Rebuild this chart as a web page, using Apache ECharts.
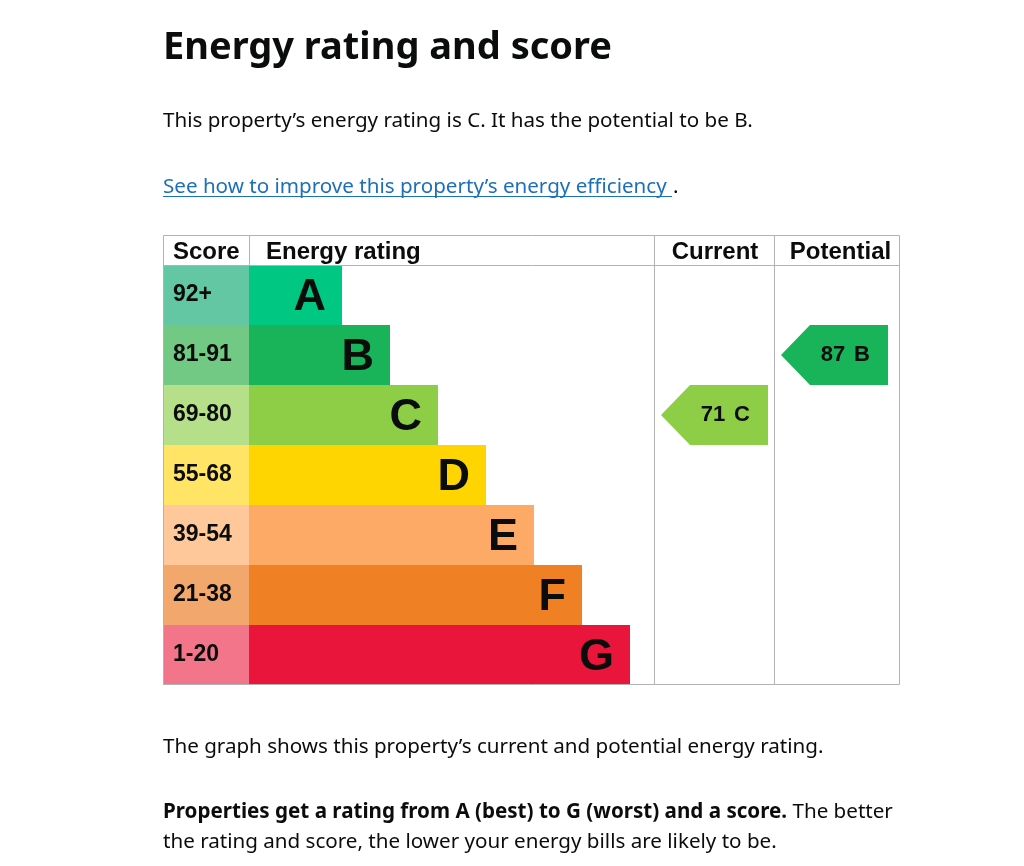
<!DOCTYPE html>
<html>
<head>
<meta charset="utf-8">
<script src="https://cdn.jsdelivr.net/npm/echarts@6/dist/echarts.min.js"></script>
<style>html,body{margin:0;padding:0;background:#fff}#c{width:1024px;height:866px}</style>
</head>
<body>
<div id="c"></div>
<script>
// ---- data ----
const ratings = ['A', 'B', 'C', 'D', 'E', 'F', 'G'];
const scoreRanges = ['92+', '81-91', '69-80', '55-68', '39-54', '21-38', '1-20'];
const ratingBarLengths = [93, 141, 189, 237, 285, 333, 381];
const ratingColors = ['#00c781', '#19b459', '#8dce46', '#ffd500', '#fcaa65', '#ef8023', '#e9153b'];
const scoreCellColors = ['#64c7a4', '#72c983', '#b6df89', '#ffe466', '#fec89b', '#f2a76d', '#f2758a'];
const currentScore = 71;
const currentRating = 'C';
const potentialScore = 87;
const potentialRating = 'B';
const headers = ['Score', 'Energy rating', 'Current', 'Potential'];

const BODY = '"Noto Sans", sans-serif';
const ARIAL = '"Liberation Sans", Arial, sans-serif';
const INK = '#0b0c0c';
const LINE = '#b1b4b6';
const FS = '20.6px ';

const chart = echarts.init(document.getElementById('c'));
const top0 = 265, h0 = 420;
const grids = [
  { left: 163, width: 86, top: top0, height: h0 },
  { left: 249, width: 405, top: top0, height: h0 },
  { left: 654, width: 120, top: top0, height: h0 },
  { left: 774, width: 126, top: top0, height: h0 }
];
const xAxes = [
  { gridIndex: 0, type: 'value', min: 0, max: 1, show: false },
  { gridIndex: 1, type: 'value', min: 0, max: 405, show: false },
  { gridIndex: 2, type: 'value', min: 0, max: 120, show: false },
  { gridIndex: 3, type: 'value', min: 0, max: 126, show: false }
];
const yAxes = grids.map((g, i) => ({ gridIndex: i, type: 'category', data: ratings, inverse: true, show: false }));

const arrowTextStyle = { fontSize: 22, fontWeight: 'bold', fontFamily: ARIAL, fill: INK };

function arrowItem(params, api) {
  const cat = api.value(0);
  const tip = api.coord([7, cat]);
  const bodyStart = api.coord([36, cat]);
  const end = api.coord([114, cat]);
  const h = api.size([0, 1])[1];
  const cy = tip[1];
  const y0 = cy - h / 2, y1 = cy + h / 2;
  const color = ratingColors[cat];
  return {
    type: 'group',
    children: [
      { type: 'polygon', shape: { points: [[tip[0], cy], [bodyStart[0], y0], [end[0], y0], [end[0], y1], [bodyStart[0], y1]] }, style: { fill: color } },
      { type: 'text', x: end[0] - 18, y: cy, style: Object.assign({
          text: '{s|' + api.value(1) + '}{g|' + ratings[cat] + '}', align: 'right', verticalAlign: 'middle',
          rich: { s: Object.assign({}, arrowTextStyle), g: Object.assign({ padding: [0, 0, 0, 9] }, arrowTextStyle) } }, arrowTextStyle) }
    ]
  };
}

const option = {
  animation: false,
  grid: grids,
  xAxis: xAxes,
  yAxis: yAxes,
  graphic: [
    { type: 'text', left: 163, top: 29, style: { text: 'Energy rating and score', font: 'bold 38px ' + BODY, fill: INK } },
    { type: 'text', x: 163, y: 121, style: { text: 'This property\u2019s energy rating is C. It has the potential to be B.', font: FS + BODY, fill: INK, verticalAlign: 'middle' } },
    { type: 'text', x: 163, y: 187, style: { text: 'See how to improve this property\u2019s energy efficiency', font: FS + BODY, fill: '#1d70b8', verticalAlign: 'middle' } },
    { type: 'line', shape: { x1: 163, y1: 196.5, x2: 672, y2: 196.5 }, style: { stroke: '#1d70b8', lineWidth: 1 } },
    { type: 'text', x: 673, y: 187, style: { text: '.', font: FS + BODY, fill: INK, verticalAlign: 'middle' } },
    // table frame
    { type: 'rect', shape: { x: 163.5, y: 235.5, width: 736, height: 449 }, style: { fill: 'none', stroke: LINE, lineWidth: 1 }, z: 10 },
    { type: 'line', shape: { x1: 163, y1: 265.5, x2: 900, y2: 265.5 }, style: { stroke: LINE, lineWidth: 1 }, z: 10 },
    { type: 'line', shape: { x1: 249.5, y1: 235, x2: 249.5, y2: 265 }, style: { stroke: LINE, lineWidth: 1 }, z: 10 },
    { type: 'line', shape: { x1: 654.5, y1: 235, x2: 654.5, y2: 685 }, style: { stroke: LINE, lineWidth: 1 }, z: 10 },
    { type: 'line', shape: { x1: 774.5, y1: 235, x2: 774.5, y2: 685 }, style: { stroke: LINE, lineWidth: 1 }, z: 10 },
    { type: 'text', x: 173, y: 252, style: { text: headers[0], font: 'bold 24px ' + ARIAL, fill: INK, verticalAlign: 'middle' } },
    { type: 'text', x: 266, y: 252, style: { text: headers[1], font: 'bold 24px ' + ARIAL, fill: INK, verticalAlign: 'middle' } },
    { type: 'text', x: 715, y: 252, style: { text: headers[2], font: 'bold 24px ' + ARIAL, fill: INK, align: 'center', verticalAlign: 'middle' } },
    { type: 'text', x: 840.5, y: 252, style: { text: headers[3], font: 'bold 24px ' + ARIAL, fill: INK, align: 'center', verticalAlign: 'middle' } },
    // bottom text
    { type: 'text', x: 163, y: 747, style: { text: 'The graph shows this property\u2019s current and potential energy rating.', font: FS + BODY, fill: INK, verticalAlign: 'middle' } },
    { type: 'text', x: 163, y: 812, style: { text: '{b|Properties get a rating from A (best) to G (worst) and a score.} The better', font: FS + BODY, fill: INK, verticalAlign: 'middle', rich: { b: { font: 'bold ' + FS + BODY, fill: INK } } } },
    { type: 'text', x: 163, y: 842, style: { text: 'the rating and score, the lower your energy bills are likely to be.', font: FS + BODY, fill: INK, verticalAlign: 'middle' } }
  ],
  series: [
    {
      type: 'bar', xAxisIndex: 0, yAxisIndex: 0, barCategoryGap: 0,
      data: scoreRanges.map((s, i) => ({ value: 1, name: s, itemStyle: { color: scoreCellColors[i] } })),
      label: { show: true, position: 'insideLeft', distance: 10, formatter: p => p.name, fontFamily: ARIAL, fontWeight: 'bold', fontSize: 23, color: INK },
      silent: true
    },
    {
      type: 'bar', xAxisIndex: 1, yAxisIndex: 1, barCategoryGap: 0,
      data: ratingBarLengths.map((v, i) => ({ value: v, itemStyle: { color: ratingColors[i] } })),
      label: { show: true, position: 'insideRight', distance: 16, offset: [0, 3], formatter: p => ratings[p.dataIndex], fontFamily: ARIAL, fontWeight: 'bold', fontSize: 45, color: INK },
      silent: true
    },
    {
      type: 'custom', xAxisIndex: 2, yAxisIndex: 2, renderItem: arrowItem,
      data: [[ratings.indexOf(currentRating), currentScore]], silent: true
    },
    {
      type: 'custom', xAxisIndex: 3, yAxisIndex: 3, renderItem: arrowItem,
      data: [[ratings.indexOf(potentialRating), potentialScore]], silent: true
    }
  ]
};
chart.setOption(option);
</script>
</body>
</html>
